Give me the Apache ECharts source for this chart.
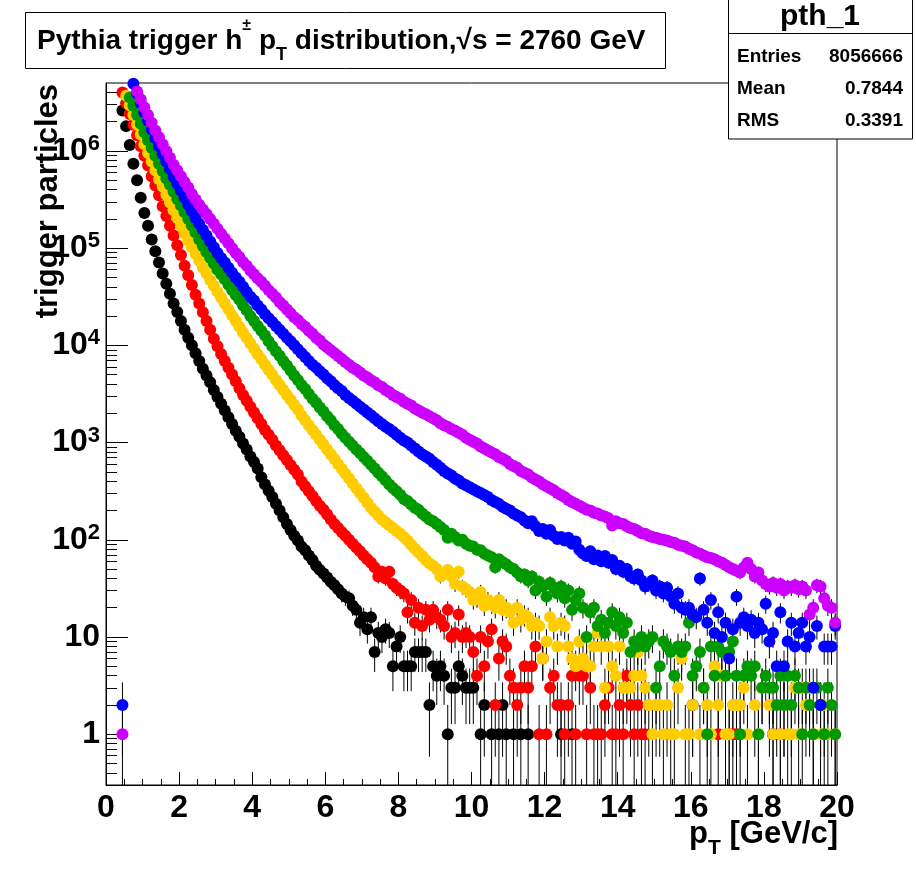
<!DOCTYPE html>
<html><head><meta charset="utf-8">
<script src="https://cdn.jsdelivr.net/npm/echarts@6/dist/echarts.min.js"></script>
<style>html,body{margin:0;padding:0;background:#fff}#c{width:916px;height:872px}</style>
</head><body><div id="c"></div>
<script>
// bin centres (GeV/c), 0.1 GeV bins
const ptBins = [
0.05,0.15,0.25,0.35,0.45,0.55,0.65,0.75,0.85,0.95,
1.05,1.15,1.25,1.35,1.45,1.55,1.65,1.75,1.85,1.95,
2.05,2.15,2.25,2.35,2.45,2.55,2.65,2.75,2.85,2.95,
3.05,3.15,3.25,3.35,3.45,3.55,3.65,3.75,3.85,3.95,
4.05,4.15,4.25,4.35,4.45,4.55,4.65,4.75,4.85,4.95,
5.05,5.15,5.25,5.35,5.45,5.55,5.65,5.75,5.85,5.95,
6.05,6.15,6.25,6.35,6.45,6.55,6.65,6.75,6.85,6.95,
7.05,7.15,7.25,7.35,7.45,7.55,7.65,7.75,7.85,7.95,
8.05,8.15,8.25,8.35,8.45,8.55,8.65,8.75,8.85,8.95,
9.05,9.15,9.25,9.35,9.45,9.55,9.65,9.75,9.85,9.95,
10.05,10.15,10.25,10.35,10.45,10.55,10.65,10.75,10.85,10.95,
11.05,11.15,11.25,11.35,11.45,11.55,11.65,11.75,11.85,11.95,
12.05,12.15,12.25,12.35,12.45,12.55,12.65,12.75,12.85,12.95,
13.05,13.15,13.25,13.35,13.45,13.55,13.65,13.75,13.85,13.95,
14.05,14.15,14.25,14.35,14.45,14.55,14.65,14.75,14.85,14.95,
15.05,15.15,15.25,15.35,15.45,15.55,15.65,15.75,15.85,15.95,
16.05,16.15,16.25,16.35,16.45,16.55,16.65,16.75,16.85,16.95,
17.05,17.15,17.25,17.35,17.45,17.55,17.65,17.75,17.85,17.95,
18.05,18.15,18.25,18.35,18.45,18.55,18.65,18.75,18.85,18.95,
19.05,19.15,19.25,19.35,19.45,19.55,19.65,19.75,19.85,19.95];

const countsBlack = [
0,0,0,0,2.6e6,1.8e6,1.15e6,7.4e5,5.0e5,3.3e5,
2.3e5,1.7e5,1.23e5,9.3e4,7.1e4,5.5e4,4.3e4,3.4e4,2.7e4,2.2e4,
17800,14500,12000,10000,8300,6900,5750,4900,4170,3470,
2950,2510,2140,1820,1550,1320,1150,980,850,720,
630,540,440,370,320,275,235,200,170,145,
126,110,98,85,78,69,62,54,49,45,
41,37,34,31,28,26,25,21,19,14,
16,12,16,7,11,10,12,11,5,8,
10,5,5,5,7,7,7,7,2,5,
4,5,4,1,3,3,5,4,3,3,
3,0,1,2,0,1,0,1,2,1,
0,1,0,1,0,1,0,0,0,0,
0,0,0,0,1,0,0,1,0,0,
0,0,0,0,0,0,0,0,0,0,
0,0,0,0,0,0,0,0,0,0,
0,0,0,0,0,0,0,0,0,0,
2,0,0,0,0,0,0,0,0,0,
0,0,0,0,0,0,0,0,0,0,
0,0,1,0,0,0,0,0,0,0,
0,0,0,0,0,0,0,0,0,0];

const countsRed = [
0,0,0,0,4.0e6,3.1e6,2.4e6,1.86e6,1.45e6,1.12e6,
8.9e5,7.1e5,5.5e5,4.4e5,3.5e5,2.7e5,2.14e5,1.7e5,1.35e5,1.07e5,
85000,66000,52500,41700,33100,26900,21900,17800,14500,11700,
9770,8130,6920,5890,5010,4270,3630,3090,2690,2340,
2040,1780,1550,1350,1200,1070,933,832,741,661,
589,525,468,398,355,316,282,251,224,204,
182,162,145,132,120,110,100,91,83,76,
69,63,58,52,42,47,40,47,35,32,
30,28,18,24,14,20,13,19,15,19,
16,15,13,19,10,11,17,10,11,10,
7,4,10,5,9,12,2,6,9,8,
4,3,2,3,5,3,5,8,1,6,
1,3,4,2,2,1,2,4,1,4,
4,1,3,1,1,1,2,3,1,1,
2,1,4,2,1,2,1,1,0,0,
0,0,0,0,0,0,0,0,0,0,
0,0,0,0,0,0,0,1,0,0,
1,1,1,0,0,0,0,0,0,0,
0,0,0,0,1,0,0,0,0,0,
0,0,0,0,0,0,0,0,0,0];

const countsYellow = [
0,0,0,0,0,3.7e6,2.95e6,2.34e6,1.86e6,1.48e6,
1.17e6,9.5e5,7.8e5,6.3e5,5.1e5,4.3e5,3.55e5,2.95e5,2.45e5,2.04e5,
1.7e5,1.41e5,1.2e5,1.02e5,8.7e4,7.4e4,6.3e4,5.5e4,4.7e4,4.1e4,
35500,31000,27000,23400,20400,17800,15500,13500,12000,10500,
9300,8100,7200,6300,5600,5000,4400,3900,3470,3090,
2750,2450,2190,1900,1700,1510,1350,1200,1070,955,
850,760,676,603,537,479,427,380,339,302,
270,240,214,195,178,162,151,141,132,123,
115,107,98,89,81,74,68,62,57,54,
50,42,46,49,42,35,47,33,31,29,
24,25,29,21,24,22,20,24,19,20,
18,14,20,15,17,16,13,14,13,6,
9,16,13,8,14,13,8,6,5,9,
6,5,5,8,11,8,3,8,5,4,
8,3,3,3,4,7,4,3,2,1,
2,2,1,2,1,1,3,6,1,1,
2,0,1,3,2,1,5,2,4,1,
1,2,2,2,3,1,0,2,1,3,
0,2,1,0,1,2,1,1,3,1,
3,2,3,1,0,1,2,1,0,1];

const countsGreen = [
0,0,0,0,0,0,3.55e6,2.9e6,2.34e6,1.9e6,
1.55e6,1.29e6,1.07e6,8.9e5,7.4e5,6.2e5,5.2e5,4.5e5,3.8e5,3.2e5,
2.75e5,2.34e5,2.0e5,1.7e5,1.45e5,1.23e5,1.05e5,9.1e4,7.9e4,6.9e4,
60000,54000,48000,42000,37000,33000,29500,25700,22900,20000,
17800,15800,14100,12600,11000,9800,8700,7800,6900,6200,
5500,4900,4400,3900,3550,3160,2820,2570,2290,2090,
1860,1700,1510,1380,1230,1120,1020,930,850,780,
710,650,590,540,490,450,410,370,340,316,
290,263,250,230,214,204,186,174,162,155,
145,135,126,105,115,107,98,100,91,87,
85,79,78,72,69,66,52,63,59,56,
52,50,46,42,44,38,42,30,37,33,
26,36,32,28,33,25,30,19,24,28,
20,10,18,20,13,15,11,14,18,13,
16,11,14,7,9,8,10,8,9,10,
3,5,9,8,7,4,8,7,8,14,
4,5,7,3,1,8,4,8,7,4,
7,9,4,1,4,5,4,5,1,3,
4,3,3,2,4,2,4,2,4,3,
1,3,2,1,3,2,1,3,2,1];

const countsBlue = [
0,0,0,0,2,0,0,4.9e6,3.9e6,3.1e6,
2.5e6,2.04e6,1.66e6,1.35e6,1.12e6,9.3e5,7.8e5,6.5e5,5.4e5,4.6e5,
3.9e5,3.3e5,2.8e5,2.4e5,2.04e5,1.78e5,1.55e5,1.35e5,1.17e5,1.02e5,
89000,79000,71000,63000,56000,50000,45000,40000,35500,31600,
29000,25700,23400,20900,19000,17400,15800,14500,13200,12000,
11000,10000,9100,8300,7600,6900,6300,5900,5400,5000,
4600,4270,3900,3630,3390,3090,2880,2690,2510,2340,
2190,2040,1910,1780,1660,1550,1450,1380,1290,1200,
1120,1050,1000,930,870,810,760,720,680,630,
590,550,510,480,457,427,407,380,363,347,
331,316,302,288,275,257,245,234,219,209,
200,186,178,170,158,148,155,138,123,129,
115,126,110,102,107,98,105,91,96,79,
72,68,76,63,69,60,68,58,62,50,
54,47,50,42,40,44,38,33,35,38,
30,33,28,32,26,22,28,20,19,20,
17,16,40,19,14,24,11,18,10,14,
6,12,26,14,16,13,15,11,14,12,
22,9,11,5,18,5,9,14,8,11,
14,8,10,3,13,2,8,8,8,13];

const countsMagenta = [
0,0,0,0,1,0,0,0,4.1e6,3.4e6,
2.8e6,2.34e6,1.95e6,1.62e6,1.38e6,1.17e6,1.0e6,8.5e5,7.2e5,6.3e5,
5.5e5,4.8e5,4.2e5,3.6e5,3.16e5,2.8e5,2.5e5,2.24e5,2.0e5,1.78e5,
1.58e5,1.41e5,1.26e5,1.12e5,1.0e5,89000,81000,72000,66000,59000,
54000,49000,45000,41000,37000,34000,31000,28000,25700,23400,
21400,19500,18200,16600,15500,14100,13200,12000,11200,10200,
9550,8910,8320,7760,7240,6760,6310,5890,5620,5250,
4900,4680,4370,4170,3890,3720,3470,3310,3090,2950,
2820,2630,2510,2400,2240,2140,2040,1950,1860,1780,
1700,1580,1510,1450,1380,1320,1260,1200,1120,1070,
1020,980,910,870,830,790,760,710,680,650,
600,575,550,510,490,470,437,417,398,372,
355,339,324,302,288,275,257,245,234,224,
214,204,200,190,186,178,174,166,140,155,
148,145,138,132,129,123,117,115,110,107,
105,102,100,98,95,93,89,87,85,81,
78,74,72,69,66,65,63,60,58,55,
52,50,48,46,52,58,50,42,46,38,
35,33,36,32,35,30,33,32,34,31,
33,30,17,20,34,33,25,21,20,14];

const seriesColors = ['#000000','#ff0000','#ffcc00','#009900','#0000ff','#cc00ff'];
const seriesCounts = [countsBlack, countsRed, countsYellow, countsGreen, countsBlue, countsMagenta];

const yMajorTicks = [1,10,100,1000,1e4,1e5,1e6];
const yMinorTicks = [0.4,0.5,0.6,0.7,0.8,0.9,2,3,4,5,6,7,8,9,20,30,40,50,60,70,80,90,
  200,300,400,500,600,700,800,900,2000,3000,4000,5000,6000,7000,8000,9000,
  2e4,3e4,4e4,5e4,6e4,7e4,8e4,9e4,2e5,3e5,4e5,5e5,6e5,7e5,8e5,9e5,2e6,3e6,4e6];

const statsRows = [['Entries','8056666'],['Mean','0.7844'],['RMS','0.3391']];

const FONT = '"Liberation Sans", Arial, Helvetica, sans-serif';
const Y_MIN = 0.3, Y_MAX = 5e6;

function toPairs(arr){
  const out = [];
  arr.forEach((v,i)=>{ if (v > 0) out.push([ptBins[i], v]); });
  return out;
}

const series = [];
seriesCounts.forEach((arr, k) => {
  const d = toPairs(arr);
  series.push({
    type:'custom', data:d, clip:true, silent:true, xAxisIndex:0, yAxisIndex:0,
    renderItem(params, api){
      const x = api.value(0), v = api.value(1), e = Math.sqrt(v);
      const lo = Math.max(v - e, Y_MIN), hi = Math.min(v + e, Y_MAX);
      const p1 = api.coord([x, hi]), p2 = api.coord([x, lo]);
      return {type:'line', shape:{x1:p1[0], y1:p1[1], x2:p2[0], y2:p2[1]},
              style:{stroke:'#000', lineWidth:1}};
    }
  });
  series.push({
    type:'scatter', data:d, symbol:'circle', symbolSize:12, silent:true,
    xAxisIndex:0, yAxisIndex:0,
    itemStyle:{color:seriesColors[k], opacity:1},
    emphasis:{disabled:true}
  });
});

function yLabel(v){
  if (v === 1) return '{b|1}';
  if (v === 10) return '{b|10}';
  const e = Math.round(Math.log10(v));
  return '{b|10}{s|' + e + '}';
}

const chart = echarts.init(document.getElementById('c'), null, {renderer:'canvas'});
chart.setOption({
  animation:false,
  backgroundColor:'#fff',
  grid:{left:106, right:79, top:83, bottom:87, show:true, borderColor:'#000', borderWidth:1, backgroundColor:'transparent'},
  xAxis:{
    type:'value', min:0, max:20, interval:2,
    axisLine:{show:true, lineStyle:{color:'#000', width:1}},
    axisTick:{show:true, inside:true, length:13, lineStyle:{color:'#000'}},
    minorTick:{show:true, splitNumber:4, length:6, lineStyle:{color:'#000'}},
    splitLine:{show:false},
    axisLabel:{color:'#000', fontFamily:FONT, fontWeight:'bold', fontSize:32, margin:7}
  },
  yAxis:[{
    type:'log', logBase:10, min:Y_MIN, max:Y_MAX,
    axisLine:{show:true, lineStyle:{color:'#000', width:1}},
    axisTick:{show:true, inside:true, length:22, lineStyle:{color:'#000'}, customValues:yMajorTicks},
    splitLine:{show:false},
    axisLabel:{customValues:yMajorTicks, color:'#000', margin:6, formatter:yLabel,
      rich:{
        b:{fontFamily:FONT, fontWeight:'bold', fontSize:32, lineHeight:36, verticalAlign:'middle', color:'#000'},
        s:{fontFamily:FONT, fontWeight:'bold', fontSize:22, lineHeight:20, verticalAlign:'top', color:'#000'}
      }}
  },{
    type:'log', logBase:10, min:Y_MIN, max:Y_MAX, position:'left',
    axisLine:{show:false}, splitLine:{show:false}, axisLabel:{show:false},
    axisTick:{show:true, inside:true, length:11, lineStyle:{color:'#000'}, customValues:yMinorTicks}
  }],
  series:series,
  graphic:[
    {type:'rect', z:100, shape:{x:25.5, y:12.5, width:640, height:56},
     style:{fill:'#fff', stroke:'#000', lineWidth:1}},
    {type:'text', z:101, x:37, y:41,
     style:{text:'{n|Pythia trigger h}{sup|±}{n| p}{sub|T}{n| distribution,√s = 2760 GeV}',
       verticalAlign:'middle', align:'left',
       rich:{
         n:{fontFamily:FONT, fontWeight:'bold', fontSize:28, lineHeight:46, verticalAlign:'middle', fill:'#000'},
         sup:{fontFamily:FONT, fontWeight:'bold', fontSize:16, lineHeight:26, verticalAlign:'top', fill:'#000'},
         sub:{fontFamily:FONT, fontWeight:'bold', fontSize:18, lineHeight:14, verticalAlign:'bottom', fill:'#000'}
       }}},
    {type:'rect', z:100, shape:{x:728.5, y:-1, width:184, height:140},
     style:{fill:'#fff', stroke:'#000', lineWidth:1}},
    {type:'line', z:101, shape:{x1:728.5, y1:33.5, x2:912.5, y2:33.5}, style:{stroke:'#000', lineWidth:1}},
    {type:'text', z:101, x:820, y:17, style:{text:'pth_1', align:'center', verticalAlign:'middle',
       font:'bold 30px ' + FONT, fill:'#000'}},
    ...statsRows.map((r,i)=>({type:'text', z:101, x:737, y:57 + i*32,
       style:{text:r[0], align:'left', verticalAlign:'middle', font:'bold 19px ' + FONT, fill:'#000'}})),
    ...statsRows.map((r,i)=>({type:'text', z:101, x:903, y:57 + i*32,
       style:{text:r[1], align:'right', verticalAlign:'middle', font:'bold 19px ' + FONT, fill:'#000'}})),
    {type:'text', z:101, x:48, y:84, rotation:Math.PI/2,
     style:{text:'trigger particles', align:'right', verticalAlign:'middle', font:'bold 31px ' + FONT, fill:'#000'}},
    {type:'text', z:101, x:838, y:834,
     style:{text:'{n|p}{sub|T}{n| [GeV/c]}', align:'right', verticalAlign:'middle',
       rich:{
         n:{fontFamily:FONT, fontWeight:'bold', fontSize:31, lineHeight:50, verticalAlign:'middle', fill:'#000'},
         sub:{fontFamily:FONT, fontWeight:'bold', fontSize:21, lineHeight:18, verticalAlign:'bottom', fill:'#000'}
       }}}
  ]
});
</script>
</body></html>
